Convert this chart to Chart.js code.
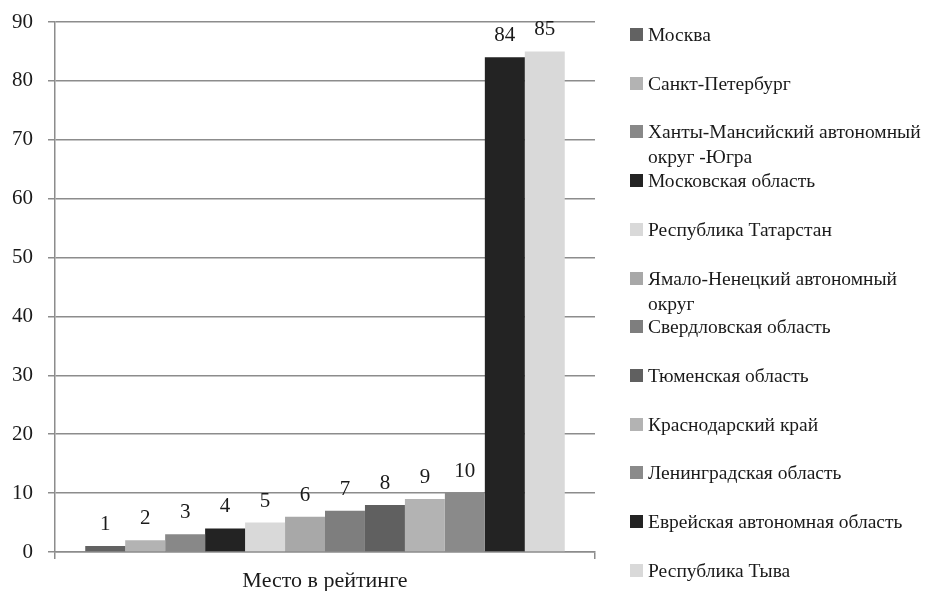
<!DOCTYPE html>
<html><head><meta charset="utf-8">
<script src="https://cdn.jsdelivr.net/npm/chart.js@4"></script>
<style>
html,body{margin:0;padding:0;background:#fff;}
#wrap{position:relative;width:932px;height:591px;}
#c{position:absolute;left:0;top:0;}
#legend{position:absolute;left:0;top:0;width:932px;height:591px;pointer-events:none;font-family:"Liberation Serif","DejaVu Serif",serif;font-size:19.5px;color:#1a1a1a;}
.li{position:absolute;left:630px;line-height:25px;}
.sw{position:absolute;left:0;top:6px;width:13px;height:13px;}
.tx{position:absolute;left:18px;top:0;white-space:nowrap;}
</style></head>
<body><div id="wrap"><canvas id="c" width="932" height="591"></canvas><div id="legend"></div></div>
<script>
const categories = ['Место в рейтинге'];
const regions = ['Москва','Санкт-Петербург',['Ханты-Мансийский автономный','округ -Югра'],'Московская область','Республика Татарстан',['Ямало-Ненецкий автономный','округ'],'Свердловская область','Тюменская область','Краснодарский край','Ленинградская область','Еврейская автономная область','Республика Тыва'];
const places = [1,2,3,4,5,6,7,8,9,10,84,85];
const colors = ['#626262','#b3b3b3','#888888','#232323','#d9d9d9','#a8a8a8','#7e7e7e','#606060','#b3b3b3','#8a8a8a','#232323','#d9d9d9'];
const yTicks = [0,10,20,30,40,50,60,70,80,90];

const FONT = '"Liberation Serif","DejaVu Serif",serif';
const labelPlugin = {
  id:'vals',
  afterDatasetsDraw(chart){
    const ctx = chart.ctx;
    ctx.save();
    ctx.font = '21px ' + FONT;
    ctx.fillStyle = '#1a1a1a';
    ctx.textAlign = 'center';
    ctx.textBaseline = 'alphabetic';
    chart.data.datasets.forEach((ds,i)=>{
      const el = chart.getDatasetMeta(i).data[0];
      ctx.fillText(String(ds.data[0]), el.x, el.y - 16);
    });
    ctx.restore();
  }
};

new Chart(document.getElementById('c'),{
  type:'bar',
  data:{
    labels: categories,
    datasets: regions.map((r,i)=>({label: Array.isArray(r)? r.join(' '): r, data:[places[i]], backgroundColor: colors[i], borderWidth:0}))
  },
  options:{
    responsive:false, animation:false,
    layout:{padding:{left:-3,right:337,top:22,bottom:-12}},
    plugins:{legend:{display:false},tooltip:{enabled:false}},
    datasets:{bar:{categoryPercentage:0.888,barPercentage:1}},
    scales:{
      x:{
        grid:{display:true,offset:true,drawOnChartArea:false,tickLength:7,color:'#8c8c8c',lineWidth:1.5},
        border:{display:true,color:'#8c8c8c',width:1.5},
        ticks:{font:{family:FONT,size:22,lineHeight:1},color:'#1a1a1a',padding:11}
      },
      y:{
        min:0,max:90,
        afterBuildTicks(axis){axis.ticks = yTicks.map(v=>({value:v}));},
        grid:{color:'#8c8c8c',lineWidth:1.5,tickLength:7},
        border:{display:true,color:'#8c8c8c',width:1.5},
        ticks:{font:{family:FONT,size:21,lineHeight:0.5},color:'#1a1a1a',padding:15}
      }
    }
  },
  plugins:[labelPlugin]
});

const leg = document.getElementById('legend');
regions.forEach((r,i)=>{
  const d = document.createElement('div');
  d.className='li';
  d.style.top = (22 + i*48.7) + 'px';
  const sw = document.createElement('div'); sw.className='sw'; sw.style.background = colors[i];
  const tx = document.createElement('div'); tx.className='tx';
  tx.innerHTML = (Array.isArray(r)? r : [r]).join('<br>');
  d.appendChild(sw); d.appendChild(tx); leg.appendChild(d);
});
</script></body></html>
